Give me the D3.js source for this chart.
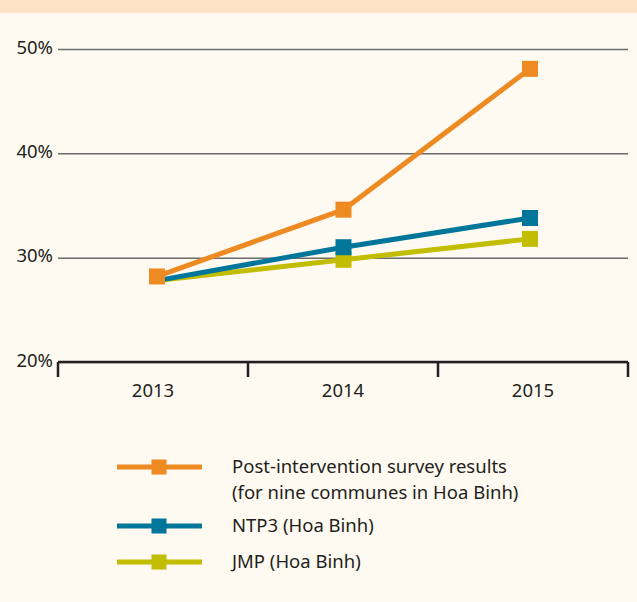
<!DOCTYPE html>
<html>
<head>
  <meta charset="utf-8">
  <title>Access chart</title>
  <script src="https://d3js.org/d3.v7.min.js"></script>
  <style type="text/css">
  body { margin: 0; background: #fef9f1; }
  svg text { font-family: "Noto Sans", sans-serif; fill: #231f20; }
  </style>
</head>
<body>
<div id="chart"></div>
<script>

// data
var years = ["2013", "2014", "2015"];
var yTicks = [20, 30, 40, 50];
var seriesNames = ["Post-intervention survey results|(for nine communes in Hoa Binh)", "NTP3 (Hoa Binh)", "JMP (Hoa Binh)"];
var surveyValues = [28.2, 34.6, 48.1];
var ntp3Values = [27.8, 31.0, 33.8];
var jmpValues = [27.8, 29.8, 31.8];
var seriesColors = ["#ee8a22", "#00769a", "#c2bd00"];

var width = 637, height = 602;

var svg = d3.select("#chart")
  .append("svg")
    .attr("width", width)
    .attr("height", height);

svg.append("rect")
  .attr("width", width).attr("height", height)
  .attr("fill", "#fef9f1");

// top band
svg.append("rect")
  .attr("width", width).attr("height", 13)
  .attr("fill", "#fde2c5");

var y = d3.scaleLinear().domain([20, 50]).range([362, 49]);
var xBand = d3.scaleBand().domain(years).range([58, 628]);
var x = d3.scalePoint().domain(years).range([157, 530]);

var fs = 18.5;

// gridlines + y labels
var yAxis = d3.axisLeft(y)
  .tickValues(yTicks)
  .tickSize(-570)
  .tickPadding(6)
  .tickFormat(function(d) { return d + "%"; });

var gy = svg.append("g")
  .attr("transform", "translate(58,0)")
  .call(yAxis);
gy.select(".domain").remove();
gy.selectAll("line")
  .attr("stroke", "#6b6b6b")
  .attr("stroke-width", 1.5);
gy.selectAll("text")
  .attr("font-size", fs)
  .attr("x", -5)
  .attr("dy", "0.22em");

// bottom axis with ticks at band edges
var gx = svg.append("g");
gx.append("line")
  .attr("x1", 58).attr("x2", 628)
  .attr("y1", y(20)).attr("y2", y(20))
  .attr("stroke", "#231f20")
  .attr("stroke-width", 2.5);
var edges = years.map(function(d) { return xBand(d); }).concat([xBand.range()[1]]);
gx.selectAll(".edge")
  .data(edges)
  .enter().append("line")
    .attr("class", "edge")
    .attr("x1", function(d) { return d; })
    .attr("x2", function(d) { return d; })
    .attr("y1", y(20))
    .attr("y2", y(20) + 15)
    .attr("stroke", "#231f20")
    .attr("stroke-width", 2.5);
gx.selectAll(".yr")
  .data(years)
  .enter().append("text")
    .attr("class", "yr")
    .attr("x", function(d) { return xBand(d) + xBand.bandwidth() / 2; })
    .attr("y", 397)
    .attr("text-anchor", "middle")
    .attr("font-size", fs)
    .text(function(d) { return d; });

var series = [
  { name: seriesNames[0], values: surveyValues, color: seriesColors[0], first: 0 },
  { name: seriesNames[1], values: ntp3Values, color: seriesColors[1], first: 1 },
  { name: seriesNames[2], values: jmpValues, color: seriesColors[2], first: 1 }
];

var line = d3.line()
  .x(function(d, i) { return x(years[i]); })
  .y(function(d) { return y(d); });

var ms = 16;

// draw back to front so orange is on top
series.slice().reverse().forEach(function(s) {
  svg.append("path")
    .datum(s.values)
    .attr("d", line)
    .attr("fill", "none")
    .attr("stroke", s.color)
    .attr("stroke-width", 5);
  svg.selectAll(null)
    .data(s.values.map(function(v, i) { return { v: v, i: i }; }).filter(function(d) { return d.i >= s.first; }))
    .enter().append("rect")
      .attr("x", function(d) { return x(years[d.i]) - ms / 2; })
      .attr("y", function(d) { return y(d.v) - ms / 2; })
      .attr("width", ms)
      .attr("height", ms)
      .attr("fill", s.color);
});

// legend
var legendY = [467, 526, 562];
var legend = svg.append("g");
series.forEach(function(s, i) {
  var g = legend.append("g").attr("transform", "translate(0," + legendY[i] + ")");
  g.append("line")
    .attr("x1", 117).attr("x2", 202)
    .attr("stroke", s.color)
    .attr("stroke-width", 5);
  g.append("rect")
    .attr("x", 159 - 7.5).attr("y", -7.5)
    .attr("width", 15).attr("height", 15)
    .attr("fill", s.color);
  var lines = s.name.split("|");
  lines.forEach(function(t, j) {
    g.append("text")
      .attr("x", 232)
      .attr("y", 6 + j * 26)
      .attr("font-size", fs)
      .text(t);
  });
});

</script>
</body>
</html>
